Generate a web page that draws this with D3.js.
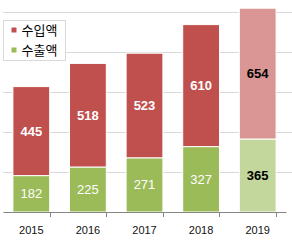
<!DOCTYPE html>
<html lang="ko">
<head>
<meta charset="UTF-8" />
<script src="https://d3js.org/d3.v7.min.js"></script>
<style>
    body { margin: 0; background: #fff; }
    svg { display: block; }
</style>
</head>
<body>
<svg id="chart" width="292" height="241"></svg>
<script>
    // data
    const years = ["2015", "2016", "2017", "2018", "2019"];
    const exportVals = [182, 225, 271, 327, 365];   // 수출액 (bottom)
    const importVals = [445, 518, 523, 610, 654];   // 수입액 (top)
    const yTicks = [0, 200, 400, 600, 800, 1000];
    const seriesNames = ["수입액", "수출액"];

    const svg = d3.select("#chart");

    const x = d3.scaleBand().domain(years).range([3, 286]).paddingInner(0.35).paddingOuter(0.175);
    const y = d3.scaleLinear().domain([0, 1000]).range([212, 12]);

    const red = "#C0504D", green = "#9BBB59";
    const redLight = "#D99694", greenLight = "#C3D69B";

    // gridlines
    svg.append("g").selectAll("line")
        .data(yTicks.slice(1))
        .join("line")
        .attr("x1", 3).attr("x2", 292)
        .attr("y1", d => Math.round(y(d)) + 0.5)
        .attr("y2", d => Math.round(y(d)) + 0.5)
        .attr("stroke", "#d9d9d9").attr("stroke-width", 1);

    const rows = years.map((yr, i) => ({ yr, i, ex: exportVals[i], im: importVals[i] }));
    const last = years.length - 1;

    const g = svg.append("g");
    // export segments
    g.selectAll(".ex").data(rows).join("rect")
        .attr("x", d => x(d.yr))
        .attr("width", x.bandwidth())
        .attr("y", d => y(d.ex))
        .attr("height", d => y(0) - y(d.ex))
        .attr("fill", d => d.i === last ? greenLight : green)
        .attr("stroke", "#fff").attr("stroke-width", 1);
    // import segments
    g.selectAll(".im").data(rows).join("rect")
        .attr("x", d => x(d.yr))
        .attr("width", x.bandwidth())
        .attr("y", d => y(d.ex + d.im))
        .attr("height", d => y(d.ex) - y(d.ex + d.im))
        .attr("fill", d => d.i === last ? redLight : red)
        .attr("stroke", "#fff").attr("stroke-width", 1);

    // value labels
    const lab = svg.append("g")
        .attr("font-family", "'Liberation Sans', Arial, sans-serif")
        .attr("font-size", 13)
        .attr("text-anchor", "middle");
    lab.selectAll(".lim").data(rows).join("text")
        .attr("x", d => x(d.yr) + x.bandwidth() / 2)
        .attr("y", d => (y(d.ex) + y(d.ex + d.im)) / 2)
        .attr("dy", "0.35em")
        .attr("font-weight", "bold")
        .attr("fill", d => d.i === last ? "#000" : "#fff")
        .text(d => d.im);
    lab.selectAll(".lex").data(rows).join("text")
        .attr("x", d => x(d.yr) + x.bandwidth() / 2)
        .attr("y", d => (y(0) + y(d.ex)) / 2)
        .attr("dy", "0.35em")
        .attr("font-weight", d => d.i === last ? "bold" : "normal")
        .attr("fill", d => d.i === last ? "#000" : "#fff")
        .text(d => d.ex);

    // x axis
    const xAxis = svg.append("g")
        .attr("transform", `translate(0,${y(0)})`)
        .call(d3.axisBottom(x).tickSize(0).tickPadding(14));
    xAxis.select(".domain").attr("stroke", "#868686");
    xAxis.selectAll("text")
        .attr("font-family", "'Liberation Sans', Arial, sans-serif")
        .attr("font-size", 11).attr("fill", "#111");
    // tick marks between categories
    const step = x.step();
    const bounds = d3.range(years.length + 1).map(k => x(years[0]) - x.paddingOuter() * step - x.paddingInner() * step / 2 + k * step);
    xAxis.selectAll(".sep").data(bounds).join("line")
        .attr("x1", d => Math.round(d) + 0.5).attr("x2", d => Math.round(d) + 0.5)
        .attr("y1", 0).attr("y2", 5)
        .attr("stroke", "#868686");

    // legend
    const leg = svg.append("g").attr("transform", "translate(3.5,20.5)");
    leg.append("rect").attr("width", 62).attr("height", 40)
        .attr("fill", "#fff").attr("stroke", "#d9d9d9");
    seriesNames.forEach((name, i) => {
        const row = leg.append("g").attr("transform", `translate(8,${7 + i * 20})`);
        row.append("rect").attr("width", 5).attr("height", 5)
            .attr("fill", i === 0 ? red : green);
        row.append("text").attr("x", 10).attr("y", 7)
            .attr("font-family", "'Noto Sans CJK KR', sans-serif")
            .attr("font-size", 13).attr("fill", "#000")
            .text(name);
    });
</script>
</body>
</html>
